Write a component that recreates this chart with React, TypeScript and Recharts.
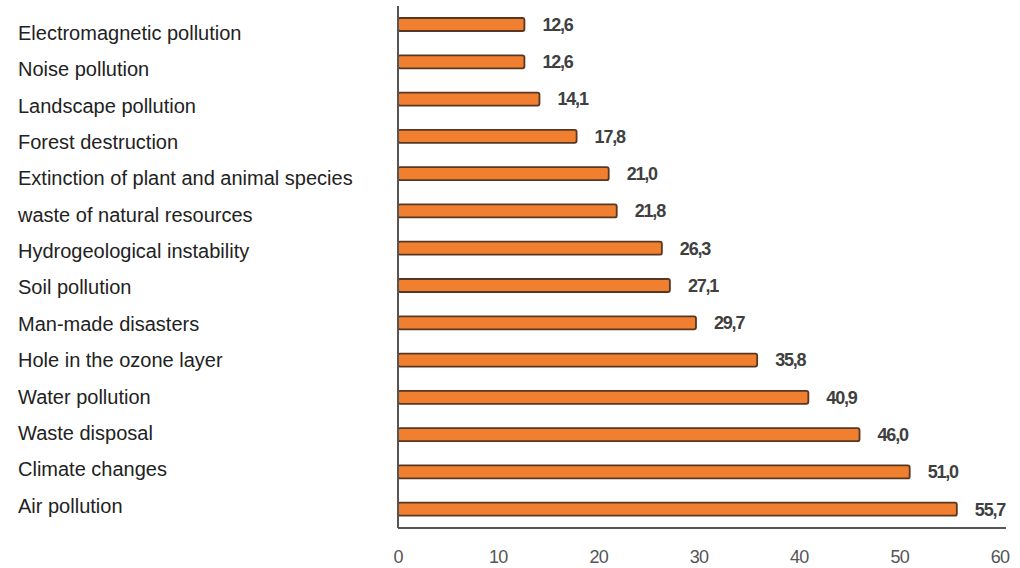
import { Bar, BarChart, LabelList, XAxis, YAxis } from "recharts";

const categories = [
  "Electromagnetic pollution",
  "Noise pollution",
  "Landscape pollution",
  "Forest destruction",
  "Extinction of plant and animal species",
  "waste of natural resources",
  "Hydrogeological instability",
  "Soil pollution",
  "Man-made disasters",
  "Hole in the ozone layer",
  "Water pollution",
  "Waste disposal",
  "Climate changes",
  "Air pollution",
];
const values = [12.6, 12.6, 14.1, 17.8, 21.0, 21.8, 26.3, 27.1, 29.7, 35.8, 40.9, 46.0, 51.0, 55.7];
const xTicks = [0, 10, 20, 30, 40, 50, 60];

const data = categories.map((name, i) => ({ name, value: values[i] }));
const FONT = "'Liberation Sans', Arial, sans-serif";
const fmt = (v: number) => v.toFixed(1).replace(".", ",");

// labels sit on a slightly tighter pitch than the bars
const CatTick = ({ y, payload, index }: any) => (
  <text
    x={18}
    y={y + 10 - index * 0.92}
    fill="#222"
    fontSize={20}
    fontFamily={FONT}
    textAnchor="start"
    dominantBaseline="middle"
  >
    {payload.value}
  </text>
);

const NumTick = ({ x, y, payload }: any) => (
  <text x={x} y={y + 27} fill="#555" fontSize={18} fontFamily={FONT} textAnchor="middle" letterSpacing={-0.8}>
    {payload.value}
  </text>
);

export default function App() {
  return (
    <div style={{ position: "absolute", left: 0, top: 0, background: "#fff" }}>
      <BarChart
        width={1020}
        height={568}
        data={data}
        layout="vertical"
        margin={{ top: 6, right: 14, left: 0, bottom: 0 }}
      >
        <XAxis
          type="number"
          domain={[0, 60.6]}
          ticks={xTicks}
          height={40}
          tickLine={false}
          tick={<NumTick />}
          axisLine={{ stroke: "#555", strokeWidth: 2 }}
          interval={0}
        />
        <YAxis
          type="category"
          dataKey="name"
          width={398}
          tickLine={false}
          tick={<CatTick />}
          axisLine={{ stroke: "#555", strokeWidth: 2 }}
          interval={0}
        />
        <Bar
          dataKey="value"
          fill="#f0802f"
          stroke="#573623"
          strokeWidth={1.8}
          radius={2}
          barSize={13}
          isAnimationActive={false}
        >
          <LabelList
            dataKey="value"
            position="right"
            offset={18}
            formatter={(v: any) => fmt(Number(v))}
            style={{ fill: "#404040", fontSize: 18, fontFamily: FONT, letterSpacing: -1.2, fontWeight: 600 }}
          />
        </Bar>
      </BarChart>
    </div>
  );
}
